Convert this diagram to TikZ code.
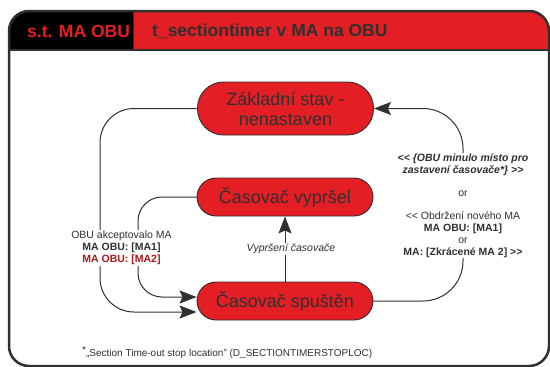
\documentclass[tikz,border=0pt]{standalone}
\usepackage{fontspec}
\setmainfont{Liberation Sans}
\usetikzlibrary{arrows.meta}
\definecolor{stred}{HTML}{E31E24}
\definecolor{ink}{HTML}{303030}
\definecolor{darkred}{HTML}{A3191C}
\begin{document}
\begin{tikzpicture}[x=1pt,y=-1pt,
  state/.style={draw=ink, line width=0.9pt, fill=stred, text=ink,
    minimum width=176pt, minimum height=38pt, rounded corners=19pt,
    font=\fontsize{18}{20}\selectfont, align=center, inner sep=0pt},
  flow/.style={draw=ink, line width=1pt, -{Stealth[length=17pt,width=13pt,inset=3pt]}},
  lbl/.style={fill=white, text=ink, font=\fontsize{10.5}{12}\selectfont,
    align=center, inner sep=1pt},
  headtext/.style={anchor=west, inner sep=0pt, font=\fontsize{17.5}{20}\selectfont\bfseries}
]
\useasboundingbox (0,0) rectangle (550,367);

% header band: black tag on the left, red title field on the right
\begin{scope}
  \clip[rounded corners=20pt] (9,11) rectangle (549,366);
  \fill[stred] (0,0) rectangle (550,50);
  \fill[black] (0,0) rectangle (133,50);
\end{scope}
\draw[ink, line width=2.5pt] (9,50) -- (549,50);
\draw[ink, line width=1pt] (133,11) -- (133,50);
\draw[ink, line width=2.5pt, rounded corners=20pt] (9,11) rectangle (549,366);

\node[headtext, text=stred] (tag) at (27,31) {s.t. MA OBU};
\node[headtext, text=ink] (title) at (152,31) {t\_sectiontimer v MA na OBU};

% states
\node[state, minimum height=53pt, rounded corners=26pt] (base) at (285.5,108.5) {Základní stav -\\nenastaven};
\node[state] (expired) at (285,197) {Časovač vypršel};
\node[state] (running) at (285,301) {Časovač spuštěn};

% transitions
\draw[flow, rounded corners=24pt] (expired.west) -- (138,197) -- (138,297) -- ([yshift=4pt]running.west);
\draw[flow, rounded corners=34pt] (base.west) -- (100,108.5) -- (100,312) -- ([yshift=-11pt]running.west);
\draw[flow, rounded corners=40pt] (running.east) -- (463,301) -- (463,108.5) -- (base.east);
\draw[flow] (running.north) -- (expired.south)
  node[midway, lbl, xshift=6pt, font=\fontsize{10.5}{12}\selectfont\itshape] (timeout) {Vypršení časovače};

% transition labels
\node[lbl] (accept) at (121.5,248) {OBU akceptovalo MA\\\textbf{MA OBU: [MA1]}\\\textcolor{darkred}{\textbf{MA OBU: [MA2]}}};
\node[lbl] (leave) at (463,205.5) {\textbf{\textit{<{}< \{OBU minulo místo pro}}\\
  \textbf{\textit{zastavení časovače*\} >{}>}}\\[11pt]
  or\\[11pt]
  <{}< Obdržení nového MA\\
  \textbf{MA OBU: [MA1]}\\
  or\\
  \textbf{MA: [Zkrácené MA 2] >{}>}};

% footnote
\node[anchor=west, text=ink, font=\fontsize{10}{12}\selectfont, inner sep=0pt] (note) at (82,353)
  {\raisebox{3pt}{*}„Section Time-out stop location” (D\_SECTIONTIMERSTOPLOC)};
\end{tikzpicture}
\end{document}
